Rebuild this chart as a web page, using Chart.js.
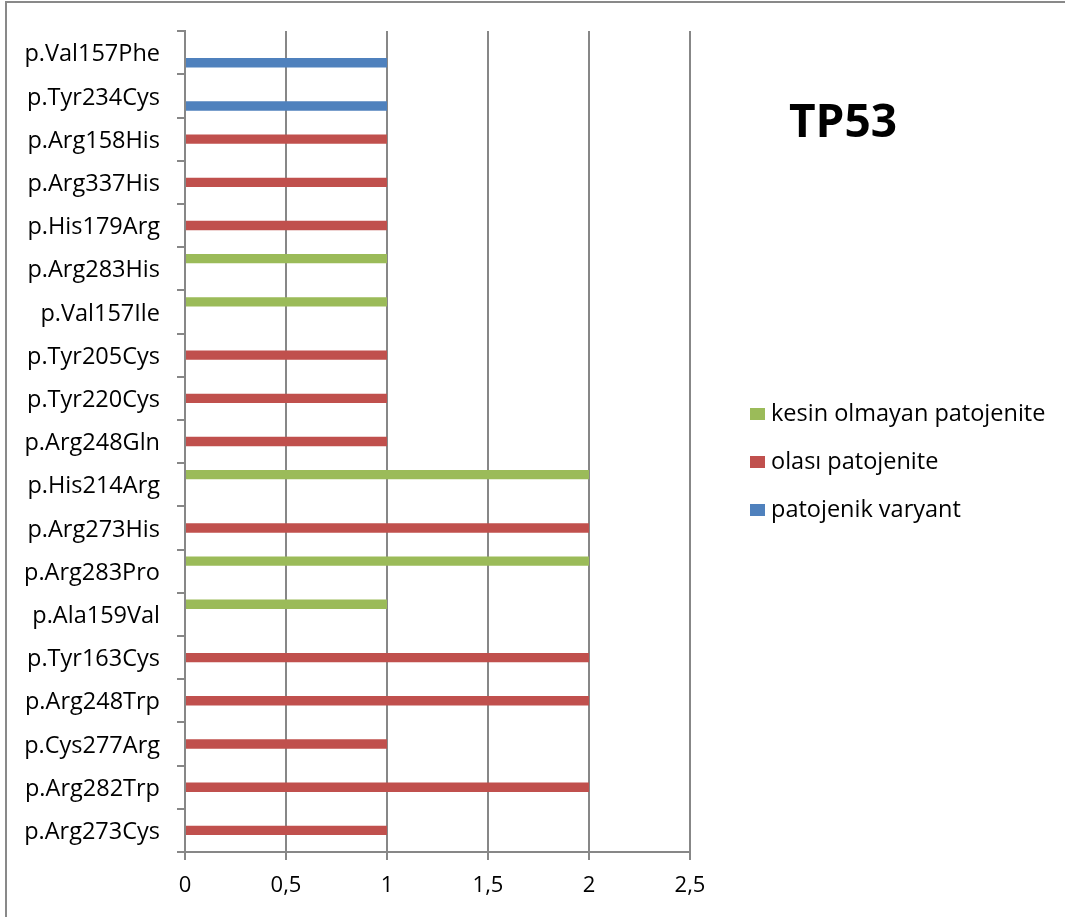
<!DOCTYPE html>
<html>
<head>
<meta charset="utf-8">
<title>TP53</title>
<script src="https://cdn.jsdelivr.net/npm/chart.js@4.4.1/dist/chart.umd.min.js"></script>
<style>
  html, body { margin: 0; padding: 0; background: #ffffff; }
  canvas { display: block; }
</style>
</head>
<body>
<canvas id="tp53" width="1065" height="917"></canvas>
<script>
// Variants, listed from top to bottom
const variants = [
  'p.Val157Phe', 'p.Tyr234Cys', 'p.Arg158His', 'p.Arg337His', 'p.His179Arg',
  'p.Arg283His', 'p.Val157Ile', 'p.Tyr205Cys', 'p.Tyr220Cys', 'p.Arg248Gln',
  'p.His214Arg', 'p.Arg273His', 'p.Arg283Pro', 'p.Ala159Val', 'p.Tyr163Cys',
  'p.Arg248Trp', 'p.Cys277Arg', 'p.Arg282Trp', 'p.Arg273Cys'
];

// Counts per classification (null = not in that class)
const uncertainCounts  = [null, null, null, null, null, 1, 1, null, null, null, 2, null, 2, 1, null, null, null, null, null];
const likelyCounts     = [null, null, 1, 1, 1, null, null, 1, 1, 1, null, 2, null, null, 2, 2, 1, 2, 1];
const pathogenicCounts = [1, 1, null, null, null, null, null, null, null, null, null, null, null, null, null, null, null, null, null];

const seriesNames = ['kesin olmayan patojenite', 'olası patojenite', 'patojenik varyant'];
const seriesColors = ['#9BBB59', '#C0504D', '#4F81BD'];

const chartTitle = 'TP53';

// Value axis ticks
const xMin = 0;
const xMax = 2.5;
const xStep = 0.5;

const FONT = "'Open Sans', 'Liberation Sans', sans-serif";
const AXIS_GREY = '#878787';

Chart.defaults.font.family = FONT;
Chart.defaults.color = '#000000';

// Outer frame, title and key drawn on the canvas
const frameTitleKey = {
  id: 'frameTitleKey',
  beforeDraw(chart) {
    const ctx = chart.ctx;
    ctx.save();
    ctx.fillStyle = '#ffffff';
    ctx.fillRect(0, 0, chart.width, chart.height);
    ctx.strokeStyle = '#898989';
    ctx.lineWidth = 2;
    ctx.beginPath();
    ctx.moveTo(6, chart.height);
    ctx.lineTo(6, 2);
    ctx.lineTo(chart.width, 2);
    ctx.stroke();
    ctx.restore();
  },
  afterDraw(chart) {
    const ctx = chart.ctx;
    ctx.save();
    // title
    ctx.fillStyle = '#000000';
    ctx.font = "bold 46px " + FONT;
    ctx.textAlign = 'center';
    ctx.textBaseline = 'alphabetic';
    ctx.fillText(chartTitle, 843, 137);
    // key
    ctx.font = "23.5px " + FONT;
    ctx.textAlign = 'left';
    ctx.textBaseline = 'middle';
    chart.data.datasets.forEach((ds, i) => {
      const cy = 414 + i * 48;
      ctx.fillStyle = ds.backgroundColor;
      ctx.fillRect(750, cy - 6, 15, 12);
      ctx.fillStyle = '#000000';
      ctx.fillText(ds.label, 771, cy);
    });
    ctx.restore();
  }
};

new Chart(document.getElementById('tp53'), {
  type: 'bar',
  data: {
    labels: variants,
    datasets: [
      { label: seriesNames[0], data: uncertainCounts,  backgroundColor: seriesColors[0] },
      { label: seriesNames[1], data: likelyCounts,     backgroundColor: seriesColors[1] },
      { label: seriesNames[2], data: pathogenicCounts, backgroundColor: seriesColors[2] }
    ]
  },
  options: {
    indexAxis: 'y',
    responsive: false,
    animation: false,
    categoryPercentage: 0.7,
    barPercentage: 0.93,
    layout: { padding: { top: 31, right: 375, bottom: 0, left: 0 } },
    plugins: {
      legend: { display: false },
      title: { display: false },
      tooltip: { enabled: false }
    },
    scales: {
      x: {
        type: 'linear',
        min: xMin,
        max: xMax,
        afterFit(scale) { scale.height = 65; },
        ticks: {
          stepSize: xStep,
          padding: 13,
          color: '#000000',
          font: { size: 22 },
          callback: (v) => String(v).replace('.', ',')
        },
        grid: { color: AXIS_GREY, lineWidth: 2, tickLength: 8, drawTicks: true },
        border: { color: AXIS_GREY, width: 2 }
      },
      y: {
        type: 'category',
        afterFit(scale) { scale.width = 185; },
        ticks: {
          padding: 17,
          labelOffset: 2,
          color: '#000000',
          font: { size: 23.5 },
          autoSkip: false
        },
        grid: { offset: true, drawOnChartArea: false, color: AXIS_GREY, lineWidth: 2, tickLength: 8 },
        border: { color: AXIS_GREY, width: 2 }
      }
    }
  },
  plugins: [frameTitleKey]
});
</script>
</body>
</html>
